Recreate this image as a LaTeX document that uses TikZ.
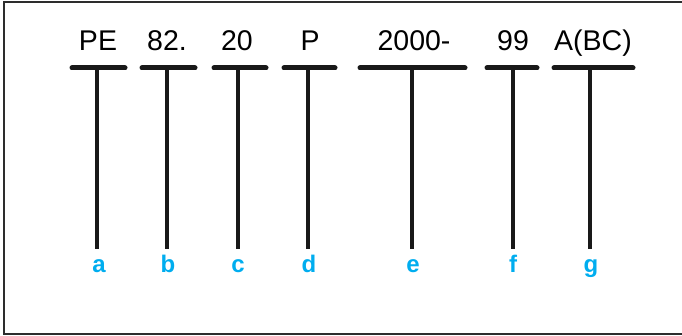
\documentclass[tikz,border=0pt]{standalone}
\usepackage{fontspec}
\setmainfont{Liberation Sans}
\definecolor{labelblue}{RGB}{0,173,239}
\definecolor{framegray}{RGB}{45,45,45}
\tikzset{
  code/.style={anchor=base, inner sep=0pt, font=\fontsize{28.5}{28.5}\selectfont},
  letter/.style={anchor=base, inner sep=0pt, text height=15pt, text=labelblue, font=\fontsize{24}{24}\selectfont\bfseries},
  bar/.style={line width=5pt, line cap=round, black!90},
  stem/.style={line width=3.5pt, black!90, shorten >=9pt},
}
\begin{document}
\begin{tikzpicture}[x=1pt,y=-1pt]
                \useasboundingbox (0,0) rectangle (682,336);
                \draw[framegray, line width=2pt] (684,2) -- (4,2) -- (4,334) -- (684,334);
                % the parts of the code
                \node[code] (pe) at (98,51) {PE};
                \node[code] (cls) at (167,51) {82.};
                \node[code] (sub) at (237,51) {20};
                \node[code] (typ) at (310,51) {P};
                \node[code] (yr) at (414,51) {2000-};
                \node[code] (no) at (513,51) {99};
                \node[code] (pt) at (593,51) {A(BC)};
                % the bars
                \draw[bar] (72,68) -- (125,68);
                \draw[bar] (142,68) -- (195,68);
                \draw[bar] (214,68) -- (266,68);
                \draw[bar] (284,68) -- (335,68);
                \draw[bar] (360,68) -- (465,68);
                \draw[bar] (487,68) -- (537,68);
                \draw[bar] (554,68) -- (633,68);
                \coordinate (ta) at (97,68);
                \coordinate (tb) at (167,68);
                \coordinate (tc) at (238,68);
                \coordinate (td) at (308,68);
                \coordinate (te) at (412,68);
                \coordinate (tf) at (513,68);
                \coordinate (tg) at (590,68);
                % the letters
                \node[letter] (a) at (99,273) {a};
                \node[letter] (b) at (168,273) {b};
                \node[letter] (c) at (238,273) {c};
                \node[letter] (d) at (309,273) {d};
                \node[letter] (e) at (413,273) {e};
                \node[letter] (f) at (513,273) {f};
                \node[letter] (g) at (591,273) {g};
                \draw[stem] (ta) -- (ta |- a.north);
                \draw[stem] (tb) -- (tb |- b.north);
                \draw[stem] (tc) -- (tc |- c.north);
                \draw[stem] (td) -- (td |- d.north);
                \draw[stem] (te) -- (te |- e.north);
                \draw[stem] (tf) -- (tf |- f.north);
                \draw[stem] (tg) -- (tg |- g.north);
            \end{tikzpicture}
\end{document}
